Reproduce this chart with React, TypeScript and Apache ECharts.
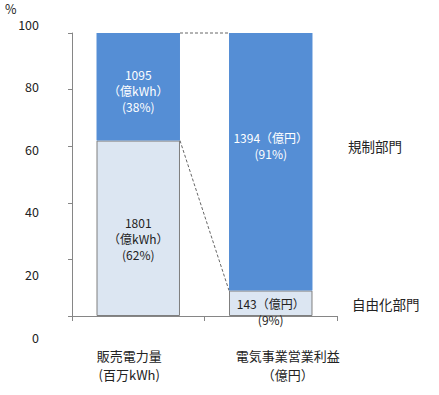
import React, { useEffect, useRef } from "react";
import * as echarts from "echarts";

const categories = ["販売電力量\n(百万kWh)", "電気事業営業利益\n（億円）"];
const seriesNames = ["自由化部門", "規制部門"];
const liberalizedPct = [62, 9];
const regulatedPct = [38, 91];
const liberalizedAmount = [1801, 143];
const regulatedAmount = [1095, 1394];
const units = ["億kWh", "億円"];
const yTicks = [0, 20, 40, 60, 80, 100];

const FONT = '"Noto Sans CJK JP", "Noto Sans", sans-serif';
const DARK = "#558ED5";
const LIGHT = "#DCE6F2";
const BAR_RATIO = 0.63;

function labelText(i: number, amount: number, pct: number) {
  if (i === 0) return `${amount}\n（${units[i]}）\n(${pct}%)`;
  return `${amount}（${units[i]}）\n(${pct}%)`;
}

export default function App() {
  const ref = useRef<HTMLDivElement>(null);
  useEffect(() => {
    if (!ref.current) return;
    const chart = echarts.init(ref.current, null, { renderer: "svg" });
    const lightOffsets = [[0, 10], [0, 8]];
    const darkOffsets = [[0, 4], [0, -16]];
    const connectors = [
      [0, 100, 100],
      [0, liberalizedPct[0], liberalizedPct[1]],
    ];
    chart.setOption({
      animation: false,
      textStyle: { fontFamily: FONT },
      grid: [
        { left: 72, right: 102, top: 33, bottom: 79 },
        { left: 72, right: 102, top: 24, bottom: 58 },
      ],
      xAxis: [
        {
          type: "category",
          gridIndex: 0,
          data: categories,
          axisLine: { show: true, lineStyle: { color: "#868686", width: 1 } },
          axisTick: { show: true, length: 5, alignWithLabel: false, lineStyle: { color: "#868686" } },
          axisLabel: {
            interval: 0,
            hideOverlap: false,
            margin: 30,
            formatter: (v: string, idx: number) =>
              idx === 0 ? `{a|${v}}` : `{b|${v}}`,
            rich: {
              a: { fontSize: 13, lineHeight: 19, color: "#222", fontFamily: FONT, padding: [0, 18, 0, 0], align: "center" },
              b: { fontSize: 13, lineHeight: 19, color: "#222", fontFamily: FONT, padding: [0, 0, 0, 34], align: "center" },
            },
          },
        },
        {
          type: "category",
          gridIndex: 1,
          data: categories,
          show: false,
        },
      ],
      yAxis: [
        {
          type: "value",
          gridIndex: 0,
          min: 0,
          max: 100,
          interval: 20,
          axisLine: { show: true, lineStyle: { color: "#868686", width: 1 } },
          axisTick: { show: true, length: 4, lineStyle: { color: "#868686" } },
          axisLabel: { show: false },
          splitLine: { show: false },
        },
        {
          type: "value",
          gridIndex: 1,
          min: yTicks[0],
          max: yTicks[yTicks.length - 1],
          interval: 20,
          axisLine: { show: false },
          axisTick: { show: false },
          splitLine: { show: false },
          axisLabel: { margin: 33, fontSize: 12.5, color: "#222", fontFamily: FONT },
        },
      ],
      series: [
        {
          name: seriesNames[0],
          type: "bar",
          stack: "total",
          barWidth: `${BAR_RATIO * 100}%`,
          xAxisIndex: 0,
          yAxisIndex: 0,
          itemStyle: { color: LIGHT, borderColor: "#7F7F7F", borderWidth: 1 },
          data: liberalizedPct.map((v, i) => ({
            value: v,
            label: {
              show: true,
              position: "inside",
              offset: lightOffsets[i],
              formatter: labelText(i, liberalizedAmount[i], v),
              color: "#222",
              fontSize: 12,
              lineHeight: 16,
              fontFamily: FONT,
            },
          })),
        },
        {
          name: seriesNames[1],
          type: "bar",
          stack: "total",
          barWidth: `${BAR_RATIO * 100}%`,
          xAxisIndex: 0,
          yAxisIndex: 0,
          itemStyle: { color: DARK, borderColor: "#7F7F7F", borderWidth: 0 },
          data: regulatedPct.map((v, i) => ({
            value: v,
            label: {
              show: true,
              position: "inside",
              offset: darkOffsets[i],
              formatter: labelText(i, regulatedAmount[i], v),
              color: "#fff",
              fontSize: 12,
              lineHeight: 16,
              fontFamily: FONT,
            },
          })),
        },
        {
          type: "custom",
          xAxisIndex: 0,
          yAxisIndex: 0,
          silent: true,
          z: 5,
          encode: { x: 0, y: 1 },
          data: connectors,
          renderItem: (params: any, api: any) => {
            const band = api.size([1, 0])[0];
            const half = (band * BAR_RATIO) / 2;
            const p1 = api.coord([0, api.value(1)]);
            const p2 = api.coord([1, api.value(2)]);
            return {
              type: "line",
              shape: { x1: p1[0] + half, y1: p1[1], x2: p2[0] - half, y2: p2[1] },
              style: { stroke: "#666", lineWidth: 1, lineDash: [3, 2], fill: null },
            };
          },
        },
      ],
      graphic: [
        { type: "text", left: 5, top: 2, style: { text: "%", fontSize: 12.5, fill: "#222", fontFamily: FONT } },
        { type: "text", left: 348, top: 139, style: { text: seriesNames[1], fontSize: 13.5, fill: "#222", fontFamily: FONT } },
        { type: "text", left: 352, top: 297, style: { text: seriesNames[0], fontSize: 13.5, fill: "#222", fontFamily: FONT } },
      ],
    });
    return () => chart.dispose();
  }, []);
  return (
    <div
      ref={ref}
      style={{ position: "fixed", left: 0, top: 0, width: 439, height: 395, background: "#fff" }}
    />
  );
}
